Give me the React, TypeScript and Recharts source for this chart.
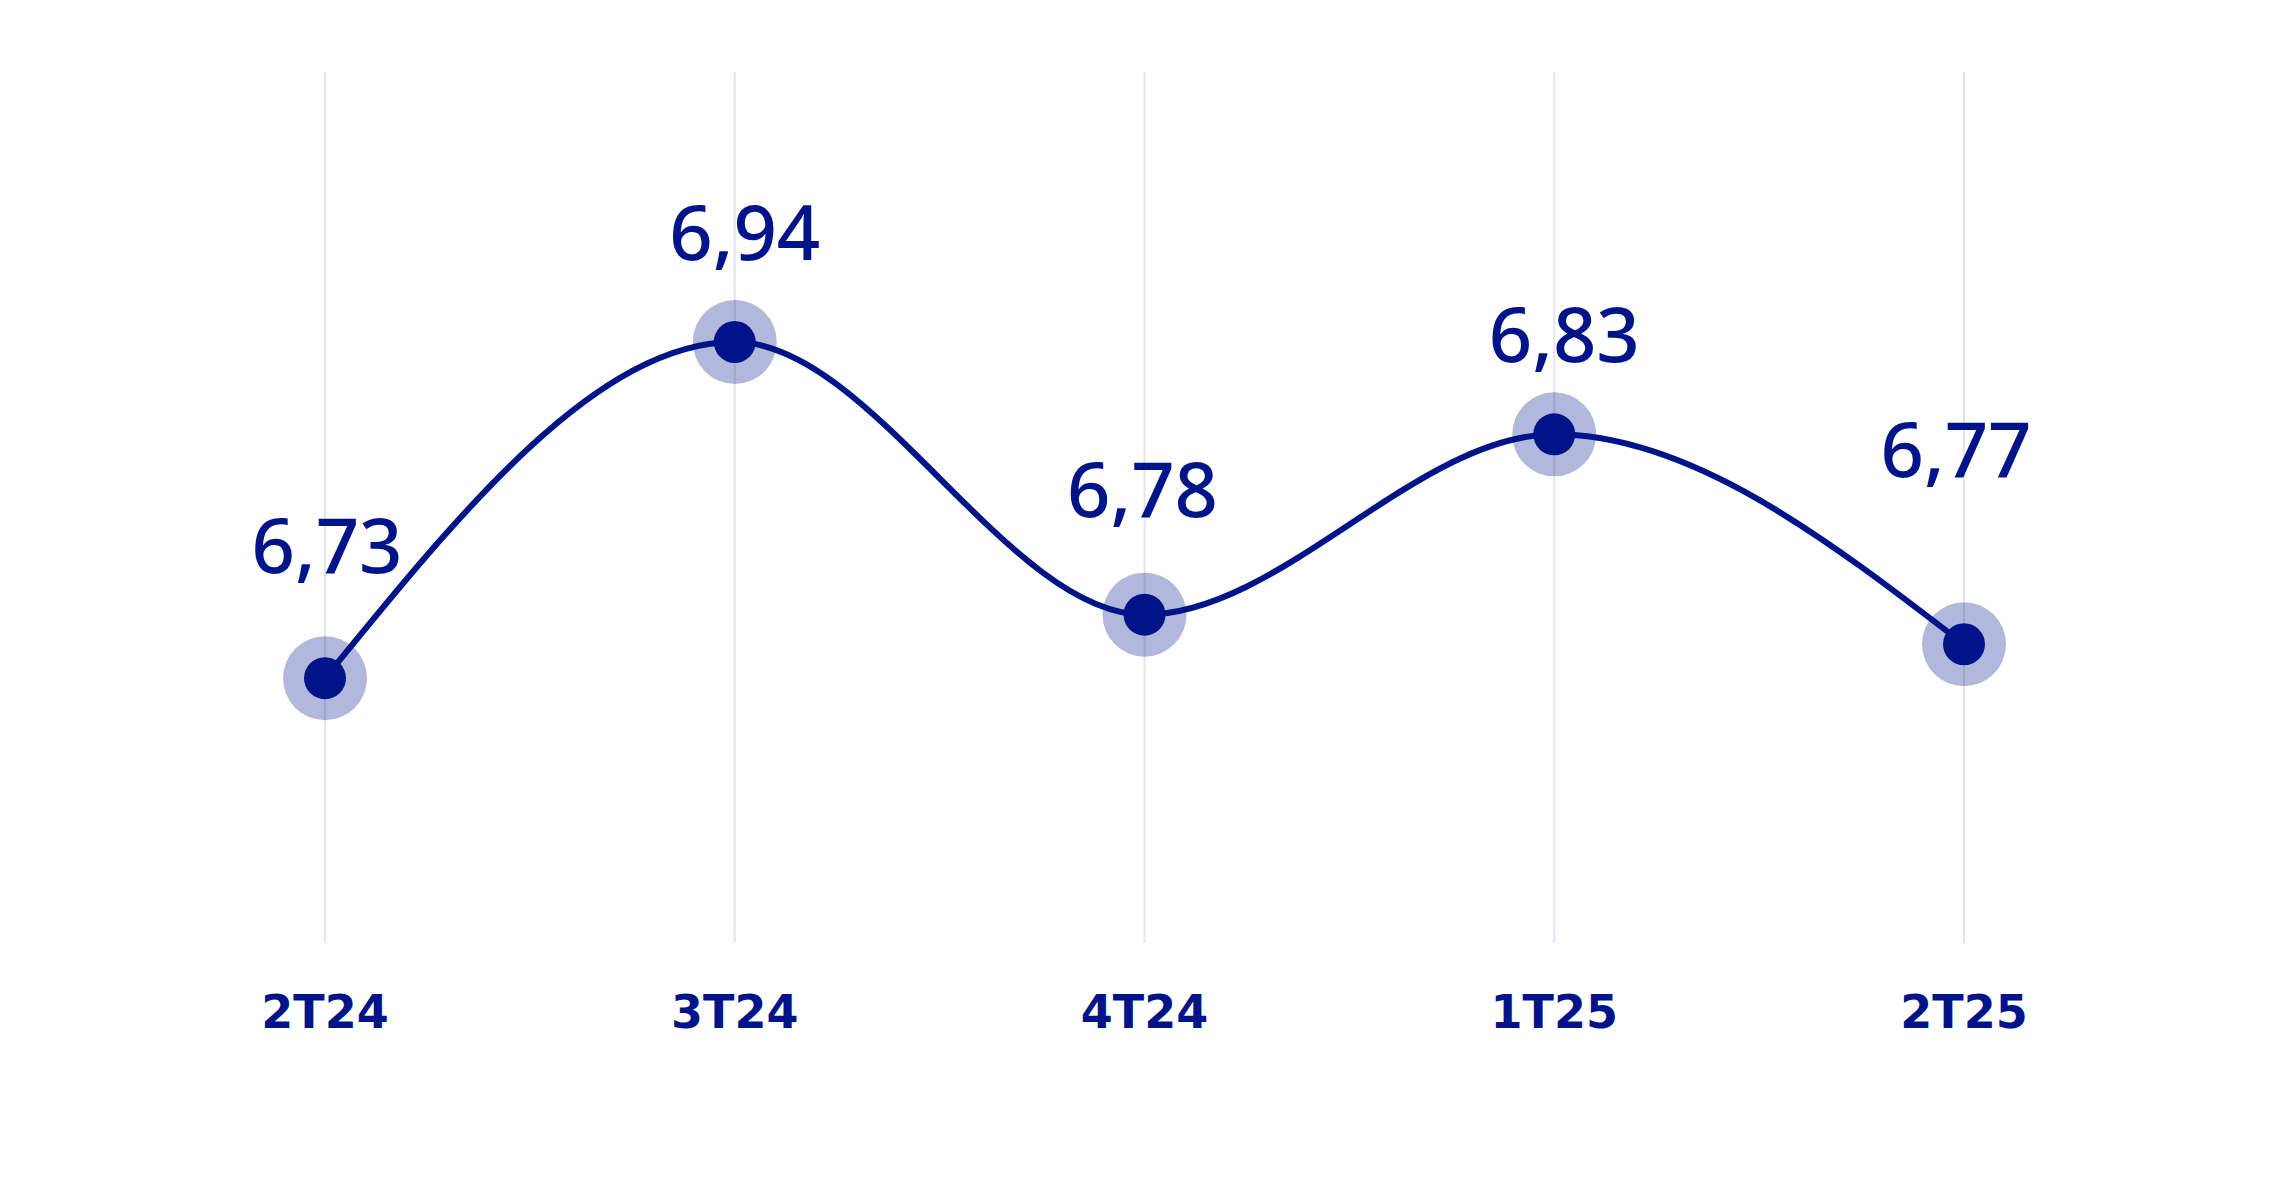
import React from 'react';
import { LineChart, Line, XAxis, YAxis, CartesianGrid, LabelList } from 'recharts';

// Quarters shown on the x axis
const categories = ['2T24', '3T24', '4T24', '1T25', '2T25'];
// Printed values above each point
const valueLabels = ['6,73', '6,94', '6,78', '6,83', '6,77'];
// Vertical level of each point as drawn in the picture (0–100 scale of the plot height)
const plotLevels = [30.4, 69.0, 37.7, 58.4, 34.3];

const data = categories.map((c, i) => ({ cat: c, level: plotLevels[i], label: valueLabels[i] }));

// layout (px): how far each value label's baseline sits above its point
const labelLift = [105, 82, 98, 72, 167];
const labelShiftX = [2, 10, -2, 10, -8];

const BLUE = '#001489';
const HALO = 'rgba(0,20,137,0.3)';
const GRID = '#e2e5eb';

const HaloDot = (props: any) => {
  const { cx, cy, index } = props;
  if (cx == null || cy == null) return null;
  return <circle key={`h${index}`} cx={cx} cy={cy} r={42} fill={HALO} />;
};

const CoreDot = (props: any) => {
  const { cx, cy, index } = props;
  if (cx == null || cy == null) return null;
  return <circle key={`c${index}`} cx={cx} cy={cy} r={21} fill={BLUE} />;
};

const ValueLabel = (props: any) => {
  const { x, y, index, value } = props;
  return (
    <text
      x={x + labelShiftX[index]}
      y={y - labelLift[index]}
      textAnchor="middle"
      fill={BLUE}
      fontFamily="'Noto Sans', sans-serif"
      fontSize={76}
      fontWeight={500}
    >
      {value}
    </text>
  );
};

const Tick = (props: any) => {
  const { x, y, payload } = props;
  return (
    <text
      x={x}
      y={y}
      dy={85}
      textAnchor="middle"
      fill={BLUE}
      fontFamily="'DejaVu Sans', sans-serif"
      fontSize={46}
      fontWeight={700}
    >
      {payload.value}
    </text>
  );
};

export default function App() {
  return (
    <div style={{ position: 'absolute', left: 0, top: 0, background: '#fff' }}>
      <LineChart
        width={2293}
        height={1189}
        data={data}
        margin={{ top: 72, right: 329, bottom: 146, left: 325 }}
      >
        <CartesianGrid horizontal={false} vertical={true} stroke={GRID} strokeWidth={2} />
        <XAxis
          dataKey="cat"
          height={100}
          axisLine={false}
          tickLine={false}
          tickSize={0}
          tickMargin={0}
          interval={0}
          padding={{ left: 0, right: 0 }}
          tick={<Tick />}
        />
        <YAxis hide domain={[0, 100]} />
        <Line
          dataKey="level"
          type="monotone"
          stroke="none"
          dot={<HaloDot />}
          activeDot={false}
          isAnimationActive={false}
        />
        <Line
          dataKey="level"
          type="monotone"
          stroke={BLUE}
          strokeWidth={6}
          dot={<CoreDot />}
          activeDot={false}
          isAnimationActive={false}
        >
          <LabelList dataKey="label" content={<ValueLabel />} />
        </Line>
      </LineChart>
    </div>
  );
}
